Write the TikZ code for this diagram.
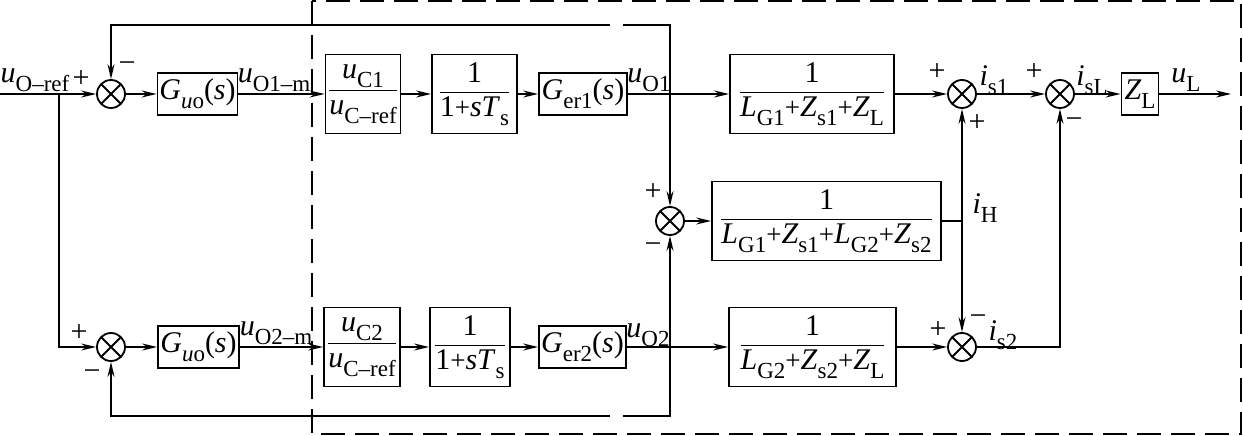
\documentclass[tikz,border=0pt]{standalone}
\usepackage{amsmath}
\usepackage{fontspec}
\setmainfont{Liberation Serif}
\usetikzlibrary{arrows.meta}
\newcommand\lo[1]{\raisebox{-0.3em}{\fontsize{23}{26}\selectfont #1}}
\newcommand\vi[1]{\textit{#1}}
\newcommand\pl{{\fontsize{27}{28}\selectfont +}}
\newcommand\fr[2]{$\displaystyle\frac{\text{#1}}{\text{#2}}$}
\tikzset{
 blk/.style={draw, line width=1.8pt, inner sep=0pt, minimum height=42pt},
 tall/.style={blk, minimum height=79pt},
 sumn/.style={circle, draw, line width=1.8pt, minimum size=28pt, inner sep=0pt,
   path picture={\draw[line width=1.8pt] (path picture bounding box.south west)--(path picture bounding box.north east) (path picture bounding box.north west)--(path picture bounding box.south east);}},
 sig/.style={line width=1.6pt},
 arr/.style={sig, -{Stealth[length=15pt,width=7pt,inset=5pt]}},
 lab/.style={inner sep=0pt},
 sgn/.style={inner sep=0pt, font=\fontsize{30}{32}\selectfont},
}
\begin{document}
\begin{tikzpicture}[x=1pt,y=-1pt,font=\fontsize{30}{36}\selectfont]
\useasboundingbox (0,0) rectangle (1243,436);
% dashed region
\draw[line width=2.4pt, dash pattern=on 24pt off 10pt] (312,1) rectangle (1241,434);
% top row
\coordinate (in) at (0,94);
\coordinate (b1) at (59,94);
\node[sumn] (s1) at (111,94) {};
\node[blk, minimum width=80pt] (gu1) at (197.5,94) {\vi{G}\lo{\vi{u}o}(\vi{s})};
\node[tall, minimum width=75pt] (uc1) at (363,94) {\fr{\vi{u}\lo{C1}}{\vi{u}\lo{C–ref}}};
\node[tall, minimum width=85pt] (ts1) at (474.5,94) {\fr{1}{1\pl\vi{s}\vi{T}\lo{s}}};
\node[blk, minimum width=88pt] (ge1) at (583,94) {\vi{G}\lo{er1}(\vi{s})};
\coordinate (b2) at (670,94);
\node[tall, minimum width=164pt] (g1) at (812,94) {\fr{1}{\vi{L}\lo{G1}\pl\vi{Z}\lo{s1}\pl\vi{Z}\lo{L}}};
\node[sumn] (s4) at (962,94) {};
\node[sumn] (s5) at (1060,94) {};
\node[blk, minimum width=37pt] (zl) at (1140,94) {\vi{Z}\lo{L}};
\coordinate (out) at (1231,94);
% middle
\node[sumn] (s3) at (670,221) {};
\node[tall, minimum width=229pt] (mid) at (826.5,221) {\fr{1}{\vi{L}\lo{G1}\pl\vi{Z}\lo{s1}\pl\vi{L}\lo{G2}\pl\vi{Z}\lo{s2}}};
\coordinate (jh) at (962,221);
% bottom row
\node[sumn] (s2) at (111,347) {};
\node[blk, minimum width=81pt] (gu2) at (198.5,347) {\vi{G}\lo{\vi{u}o}(\vi{s})};
\node[tall, minimum width=76pt] (uc2) at (362,347) {\fr{\vi{u}\lo{C2}}{\vi{u}\lo{C–ref}}};
\node[tall, minimum width=80pt] (ts2) at (470,347) {\fr{1}{1\pl\vi{s}\vi{T}\lo{s}}};
\node[blk, minimum width=87pt] (ge2) at (582.5,347) {\vi{G}\lo{er2}(\vi{s})};
\coordinate (b3) at (670,347);
\node[tall, minimum width=167pt] (g2) at (812.5,347) {\fr{1}{\vi{L}\lo{G2}\pl\vi{Z}\lo{s2}\pl\vi{Z}\lo{L}}};
\node[sumn] (s6) at (962,347) {};
% feedback gap coordinates
\coordinate (t1) at (623,25);
\coordinate (t2) at (610,25);
\coordinate (u1) at (623,416);
\coordinate (u2) at (610,416);
% connectors top
\draw[arr] (in) -- (s1);
\draw[arr] (s1) -- (gu1);
\draw[arr] (gu1) -- (uc1);
\draw[arr] (uc1) -- (ts1);
\draw[arr] (ts1) -- (ge1);
\draw[arr] (ge1) -- (g1);
\draw[arr] (g1) -- (s4);
\draw[arr] (s4) -- (s5);
\draw[arr] (s5) -- (zl);
\draw[arr] (zl) -- (out);
\draw[arr] (b1) |- (s2);
\draw[sig] (b2) |- (t1);
\draw[arr] (t2) -| (s1);
\draw[arr] (b2) -- (s3);
% middle
\draw[arr] (s3) -- (mid);
\draw[sig] (mid) -- (jh);
\draw[arr] (jh) -- (s4);
\draw[arr] (jh) -- (s6);
% bottom
\draw[arr] (s2) -- (gu2);
\draw[arr] (gu2) -- (uc2);
\draw[arr] (uc2) -- (ts2);
\draw[arr] (ts2) -- (ge2);
\draw[arr] (ge2) -- (g2);
\draw[arr] (g2) -- (s6);
\draw[arr] (s6) -| (s5);
\draw[sig] (b3) |- (u1);
\draw[arr] (u2) -| (s2);
\draw[arr] (b3) -- (s3);
% labels
\node[lab] at (35,80) {\vi{u}\lo{O–ref}};
\node[sgn] at (81,79) {+};
\node[sgn] at (127,67) {−};
\node[lab] at (274,80) {\vi{u}\lo{O1–m}};
\node[lab] at (649,80) {\vi{u}\lo{O1}};
\node[sgn] at (653,192) {+};
\node[sgn] at (653,248) {−};
\node[sgn] at (937,72) {+};
\node[lab] at (994,80) {\vi{i}\lo{s1}};
\node[sgn] at (977,123) {+};
\node[sgn] at (1034,72) {+};
\node[lab] at (1092,80) {\vi{i}\lo{sL}};
\node[sgn] at (1074,123) {−};
\node[lab] at (1186,80) {\vi{u}\lo{L}};
\node[lab] at (985,208) {\vi{i}\lo{H}};
\node[sgn] at (938,330) {+};
\node[sgn] at (978,320) {−};
\node[lab] at (1003,335) {\vi{i}\lo{s2}};
\node[sgn] at (79,333) {+};
\node[sgn] at (92,375) {−};
\node[lab] at (276,333) {\vi{u}\lo{O2–m}};
\node[lab] at (648,335) {\vi{u}\lo{O2}};
\end{tikzpicture}
\end{document}
